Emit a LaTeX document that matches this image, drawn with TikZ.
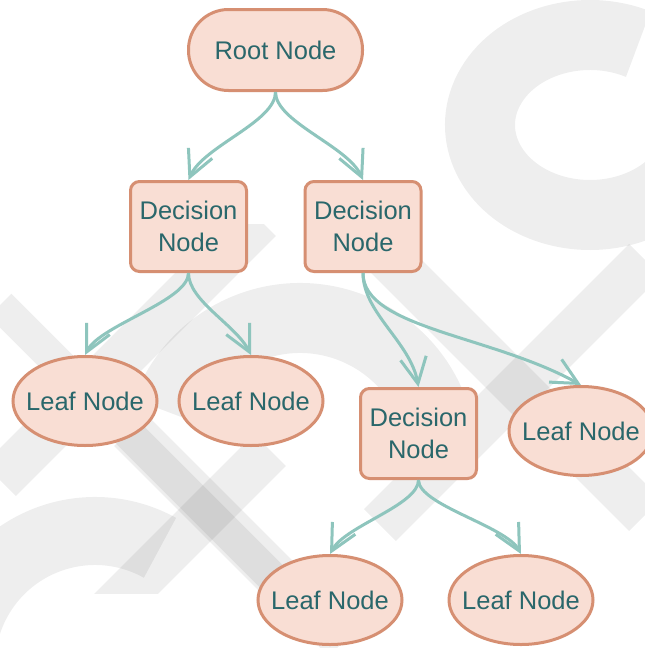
\documentclass[tikz,border=0pt]{standalone}
\usepackage{fontspec}
\setmainfont{Liberation Sans}
\usetikzlibrary{arrows.meta,shapes.geometric}
\definecolor{nodefill}{HTML}{F9DED4}
\definecolor{nodeline}{HTML}{D68F72}
\definecolor{nodetext}{HTML}{2A676B}
\definecolor{edgecol}{HTML}{8EC5BD}
\newcommand{\leaftext}{\makebox[0pt]{Leaf Node}}
\begin{document}
\begin{tikzpicture}[x=1pt,y=1pt,
  base/.style={draw=nodeline, fill=nodefill, line width=3pt, text=nodetext,
    font=\fontsize{25.5}{31.5}\selectfont, align=center, inner sep=0pt},
  rootbox/.style={base, rectangle, rounded corners=40pt, minimum width=174pt, minimum height=81pt},
  decbox/.style={base, rectangle, rounded corners=9pt, minimum width=116pt, minimum height=90pt},
  leafbox/.style={base, ellipse, minimum width=144pt, minimum height=89pt},
  link/.style={draw=edgecol, line width=3pt, -{Straight Barb[length=26pt,width=26pt]}},
  wm/.style={draw=black, draw opacity=0.065, line cap=butt}
]
\useasboundingbox (0,0) rectangle (645,-648);
\fill[white] (0,0) rectangle (645,-648);
\begin{scope}
\clip (0,0) rectangle (645,-648);
% faint background watermark
\draw[wm, line width=70pt] (590,-125) ++(64:110 and 90)
  arc[start angle=64, end angle=340, x radius=110, y radius=90];
\draw[wm, line width=68pt] (95,-665) ++(61:134)
  arc[start angle=61, end angle=200, radius=134];
\draw[wm, line width=70pt] (300,-460) ++(20:142)
  arc[start angle=20, end angle=160, radius=142];
\draw[wm, line width=32pt] (0,-305) -- (340,-645);
\begin{scope}
\clip (0,-224) rectangle (645,-593);
\draw[wm, line width=45pt] (330,-200) -- (645,-515);
\draw[wm, line width=45pt] (645,-260) -- (380,-525);
\draw[wm, line width=45pt] (0,-480) -- (260,-220);
\draw[wm, line width=45pt] (270,-450) -- (110,-610);
\draw[wm, line width=45pt] (130,-430) -- (330,-630);
\end{scope}

% tree nodes
\node[rootbox] (root) at (275.5,-50) {Root Node};
\node[decbox] (d1) at (188.5,-226.5) {Decision\\Node};
\node[decbox] (d2) at (363,-226.5) {Decision\\Node};
\node[decbox] (d3) at (418.5,-433.5) {Decision\\Node};
\node[leafbox] (l1) at (85,-401) {\leaftext};
\node[leafbox] (l2) at (251,-401) {\leaftext};
\node[leafbox] (l3) at (581,-431) {\leaftext};
\node[leafbox] (l4) at (330,-600) {\leaftext};
\node[leafbox] (l5) at (521,-600) {\leaftext};

% connectors
\draw[link] (root.south) .. controls +(0,-30) and +(15,34) .. (d1.north);
\draw[link] (root.south) .. controls +(0,-30) and +(-15,34) .. (d2.north);
\draw[link] (d1.south) .. controls +(0,-28) and +(15,30) .. (l1.north);
\draw[link] (d1.south) .. controls +(0,-28) and +(-15,30) .. (l2.north);
\draw[link] (d2.south) .. controls +(0,-40) and +(-8,45) .. (d3.north);
\draw[link] (d2.south) .. controls +(0,-55) and +(-90,50) .. (l3.north);
\draw[link] (d3.south) .. controls +(0,-25) and +(15,28) .. (l4.north);
\draw[link] (d3.south) .. controls +(0,-25) and +(-15,28) .. (l5.north);
\end{scope}
\end{tikzpicture}
\end{document}
